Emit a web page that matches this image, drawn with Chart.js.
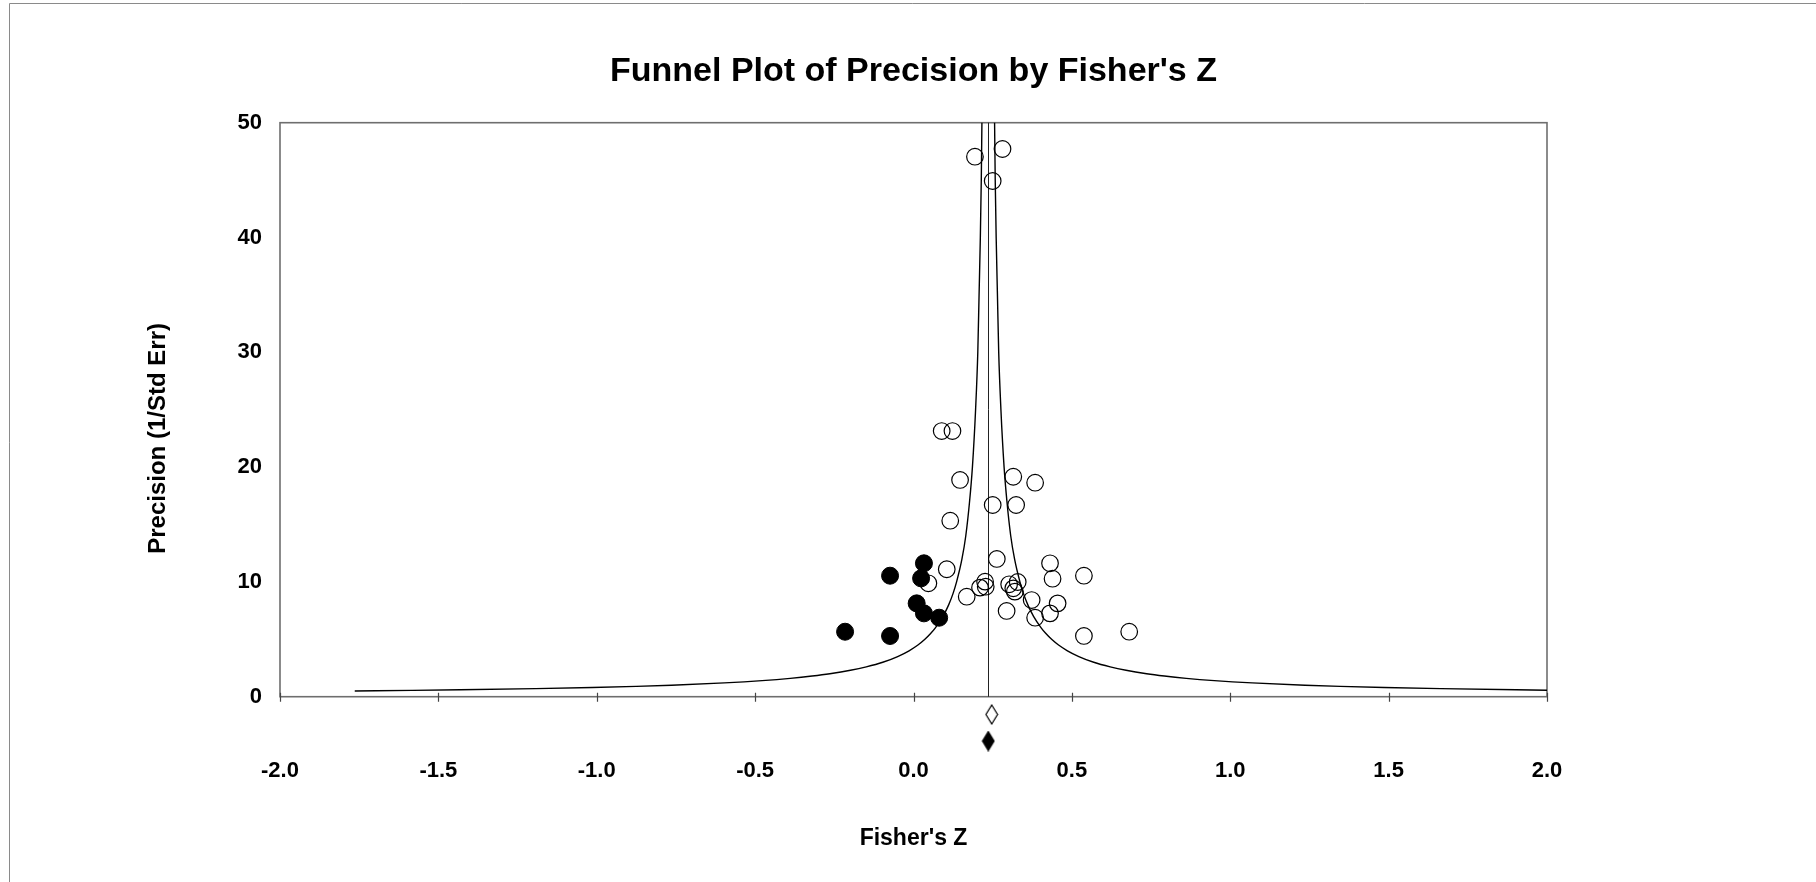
<!DOCTYPE html>
<html>
<head>
<meta charset="utf-8">
<title>Funnel Plot of Precision by Fisher's Z</title>
<script src="https://cdn.jsdelivr.net/npm/chart.js@4.4.1/dist/chart.umd.min.js"></script>
<style>
    html, body { margin: 0; padding: 0; background: #fff; }
    canvas { display: block; }
</style>
</head>
<body>
<canvas id="funnelChart" width="1816" height="882"></canvas>
<script>
// Observed studies (open circles)
const observedZ = [0.194, 0.281, 0.250, 0.089, 0.123, 0.147, 0.315, 0.384, 0.250, 0.324,
    0.116, 0.263, 0.431, 0.105, 0.439, 0.538, 0.047, 0.226, 0.210, 0.228,
    0.302, 0.329, 0.315, 0.320, 0.168, 0.373, 0.455, 0.294, 0.384, 0.431,
    0.538, 0.681];
const observedPrecision = [47.04, 47.71, 44.92, 23.14, 23.14, 18.88, 19.16, 18.64, 16.70, 16.70,
    15.33, 12.00, 11.62, 11.10, 10.28, 10.54, 9.88, 10.02, 9.50, 9.58,
    9.79, 9.99, 9.44, 9.15, 8.71, 8.42, 8.13, 7.47, 6.88, 7.26,
    5.29, 5.66];

// Imputed studies (filled circles)
const imputedZ = [0.033, -0.074, 0.024, 0.010, 0.033, 0.081, -0.216, -0.074];
const imputedPrecision = [11.62, 10.54, 10.31, 8.13, 7.26, 6.88, 5.66, 5.29];

// Funnel limits
const funnelPrecision = [0.5, 0.55, 0.6, 0.7, 0.8, 0.9, 1.0, 1.2, 1.4, 1.6, 1.8, 2.0, 2.3, 2.6, 3.0,
    3.5, 4.0, 4.5, 5.0, 5.5, 6, 7, 8, 9, 10, 12, 14, 17, 20, 25, 30, 35, 40, 45, 50, 55];
const funnelLeftZ = [-1.764, -1.582, -1.431, -1.193, -1.014, -0.875, -0.764, -0.597, -0.478, -0.389,
    -0.320, -0.264, -0.199, -0.149, -0.097, -0.050, -0.014, 0.014, 0.036, 0.054, 0.069, 0.093,
    0.111, 0.125, 0.136, 0.153, 0.165, 0.177, 0.186, 0.196, 0.203, 0.207, 0.211, 0.214, 0.216, 0.218];
const funnelRightZ = [2.236, 2.054, 1.903, 1.665, 1.486, 1.347, 1.236, 1.069, 0.950, 0.861,
    0.792, 0.736, 0.671, 0.621, 0.569, 0.522, 0.486, 0.458, 0.436, 0.418, 0.403, 0.379,
    0.361, 0.347, 0.336, 0.319, 0.307, 0.295, 0.286, 0.276, 0.269, 0.265, 0.261, 0.258, 0.256, 0.254];

// Summary estimates
const centerZ = 0.236;
const observedSummary = { z: 0.247, y: -1.55 };
const adjustedSummary = { z: 0.236, y: -3.86 };

const xTicks = [-2.0, -1.5, -1.0, -0.5, 0.0, 0.5, 1.0, 1.5, 2.0];
const yTicks = [0, 10, 20, 30, 40, 50];

const FONT = "Arial, 'Liberation Sans', Helvetica, sans-serif";

function pairs(xs, ys) {
    return xs.map((x, i) => ({ x: x, y: ys[i] }));
}

// Tall narrow diamond used for the summary markers
function makeDiamond(filled) {
    const c = document.createElement('canvas');
    c.width = 14;
    c.height = 21;
    const g = c.getContext('2d');
    g.beginPath();
    g.moveTo(7, 1);
    g.lineTo(12.8, 10.5);
    g.lineTo(7, 20);
    g.lineTo(1.2, 10.5);
    g.closePath();
    g.fillStyle = filled ? '#000' : '#fff';
    g.fill();
    g.lineWidth = 1.2;
    g.strokeStyle = '#000';
    g.stroke();
    return c;
}

// Page border, plot frame and x-axis tick marks
const framePlugin = {
    id: 'frame',
    beforeDraw(chart) {
        const ctx = chart.ctx;
        ctx.save();
        ctx.fillStyle = '#fff';
        ctx.fillRect(0, 0, chart.width, chart.height);
        ctx.strokeStyle = '#8a8a8a';
        ctx.lineWidth = 1;
        ctx.beginPath();
        ctx.moveTo(9.5, chart.height);
        ctx.lineTo(9.5, 3.5);
        ctx.lineTo(chart.width, 3.5);
        ctx.stroke();
        ctx.restore();
    },
    beforeDatasetsDraw(chart) {
        const ctx = chart.ctx;
        const xs = chart.scales.x;
        const ys = chart.scales.y;
        const left = xs.getPixelForValue(-2);
        const right = xs.getPixelForValue(2);
        const top = ys.getPixelForValue(50);
        const y0 = ys.getPixelForValue(0);
        ctx.save();
        ctx.strokeStyle = '#6e6e6e';
        ctx.lineWidth = 1.6;
        ctx.strokeRect(left, top, right - left, y0 - top);
        ctx.lineWidth = 1.2;
        ctx.strokeStyle = '#444';
        ctx.beginPath();
        xTicks.forEach(v => {
            const px = Math.round(xs.getPixelForValue(v)) + 0.5;
            ctx.moveTo(px, y0 - 4);
            ctx.lineTo(px, y0 + 5);
        });
        ctx.stroke();
        // line of the summary estimate
        const cx = Math.round(xs.getPixelForValue(centerZ)) + 0.5;
        ctx.strokeStyle = '#222';
        ctx.lineWidth = 1;
        ctx.beginPath();
        ctx.moveTo(cx, top);
        ctx.lineTo(cx, y0);
        ctx.stroke();
        ctx.restore();
    }
};

const ctx = document.getElementById('funnelChart').getContext('2d');

new Chart(ctx, {
    type: 'scatter',
    data: {
        datasets: [
            {
                label: 'Imputed',
                data: pairs(imputedZ, imputedPrecision),
                pointRadius: 8.5,
                pointBackgroundColor: '#000',
                pointBorderColor: '#000',
                pointBorderWidth: 1
            },
            {
                label: 'Observed',
                data: pairs(observedZ, observedPrecision),
                pointRadius: 8.3,
                pointBackgroundColor: 'rgba(0,0,0,0)',
                pointBorderColor: '#000',
                pointBorderWidth: 1.2
            },
            {
                label: 'Observed summary',
                data: [observedSummary].map(d => ({ x: d.z, y: d.y })),
                pointStyle: makeDiamond(false),
                pointRadius: 6
            },
            {
                label: 'Adjusted summary',
                data: [adjustedSummary].map(d => ({ x: d.z, y: d.y })),
                pointStyle: makeDiamond(true),
                pointRadius: 6
            },
            {
                label: 'Lower limit',
                data: pairs(funnelLeftZ, funnelPrecision),
                showLine: true,
                pointRadius: 0,
                borderColor: '#000',
                borderWidth: 1.4,
                cubicInterpolationMode: 'monotone'
            },
            {
                label: 'Upper limit',
                data: pairs(funnelRightZ, funnelPrecision).reverse(),
                showLine: true,
                pointRadius: 0,
                borderColor: '#000',
                borderWidth: 1.4,
                cubicInterpolationMode: 'monotone'
            }
        ]
    },
    options: {
        responsive: false,
        animation: false,
        layout: { padding: { left: 0, right: 269, top: 0, bottom: 0 } },
        plugins: {
            legend: { display: false },
            tooltip: { enabled: false },
            title: {
                display: true,
                fullSize: false,
                text: "Funnel Plot of Precision by Fisher's Z",
                color: '#000',
                font: { family: FONT, size: 34, weight: 'bold' },
                padding: { top: 51.4, bottom: 30.5 }
            }
        },
        scales: {
            x: {
                type: 'linear',
                min: -2,
                max: 2,
                grid: { display: false, drawTicks: false },
                border: { display: false },
                afterBuildTicks: s => { s.ticks = xTicks.map(v => ({ value: v })); },
                afterFit: s => { s.height = 127.9; },
                ticks: {
                    padding: 3.3,
                    color: '#000',
                    maxRotation: 0,
                    font: { family: FONT, size: 22, weight: 'bold' },
                    callback: v => v.toFixed(1)
                },
                title: {
                    display: true,
                    text: "Fisher's Z",
                    color: '#000',
                    font: { family: FONT, size: 23, weight: 'bold' },
                    padding: { top: 0, bottom: 29.3 }
                }
            },
            y: {
                type: 'linear',
                min: -5,
                max: 50,
                grid: { display: false, drawTicks: false },
                border: { display: false },
                afterBuildTicks: s => { s.ticks = yTicks.map(v => ({ value: v })); },
                afterFit: s => { s.width = 280; },
                ticks: {
                    padding: 18,
                    color: '#000',
                    font: { family: FONT, size: 22, weight: 'bold' }
                },
                title: {
                    display: true,
                    text: 'Precision (1/Std Err)',
                    color: '#000',
                    font: { family: FONT, size: 24, weight: 'bold' },
                    padding: { top: 144.2, bottom: 0 }
                }
            }
        }
    },
    plugins: [framePlugin]
});
</script>
</body>
</html>
